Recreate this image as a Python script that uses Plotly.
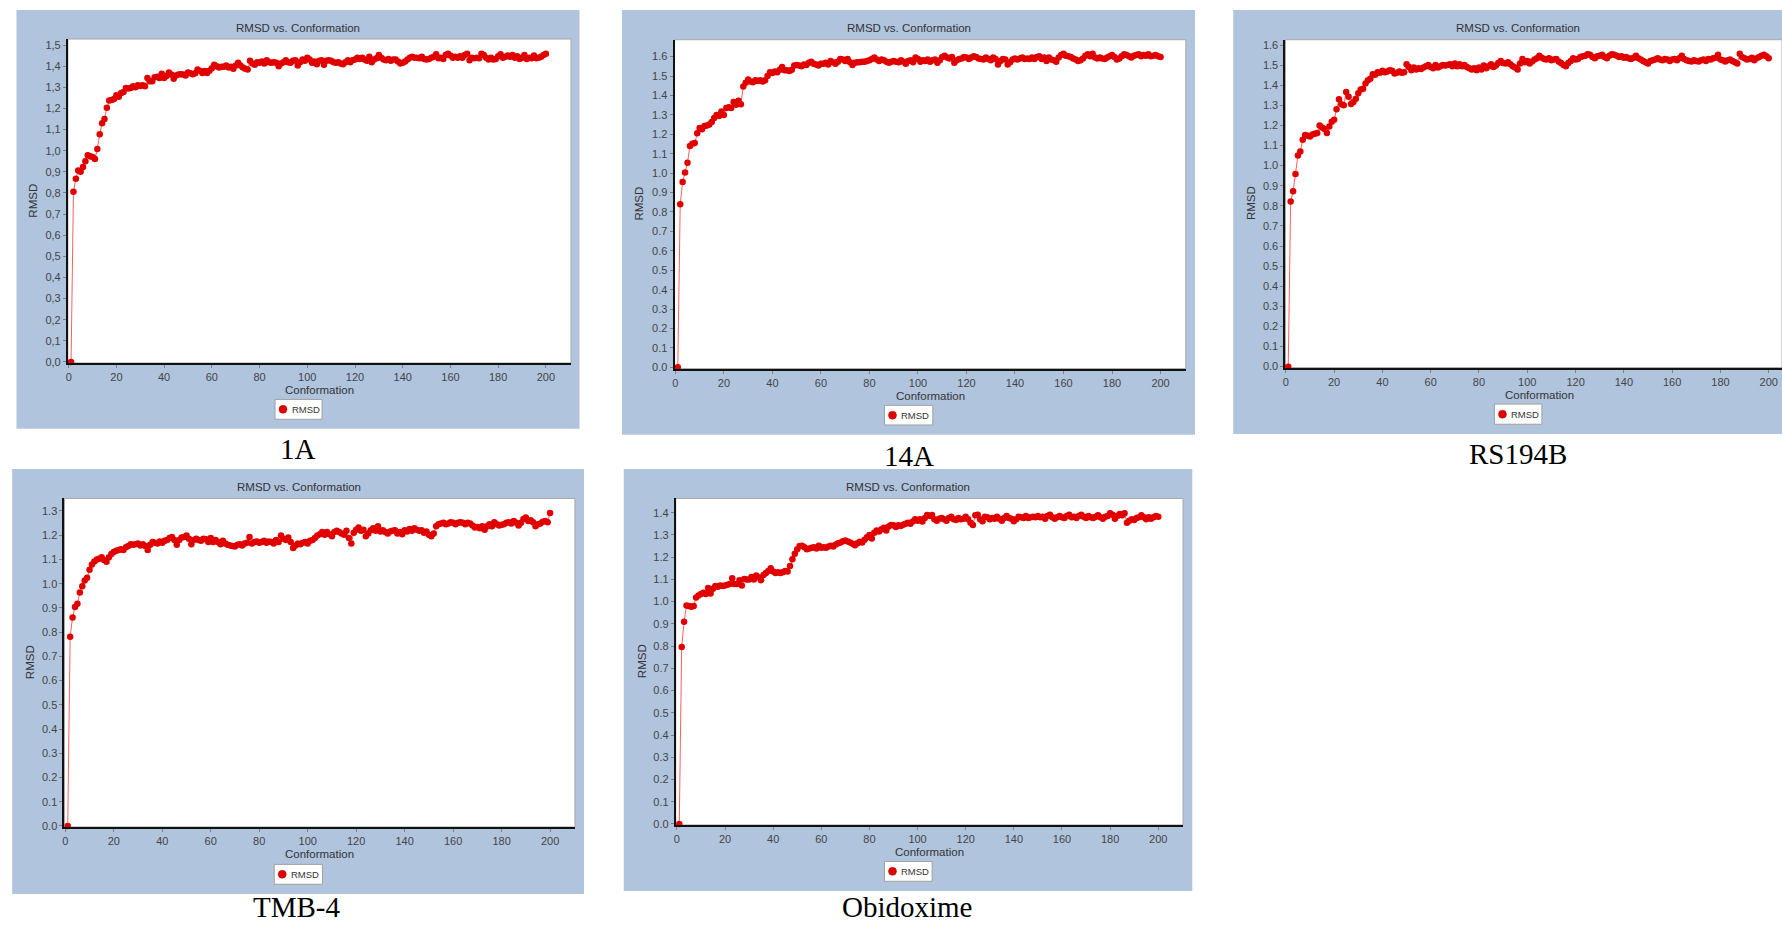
import plotly.graph_objects as go

W, H = 1782, 929

# ---------------- data ----------------
conformation = list(range(1, 201))

rmsd_1A = [
    0.0, 0.805, 0.867, 0.906, 0.90, 0.923, 0.95, 0.978, 0.973, 0.97,
    0.96, 1.008, 1.078, 1.13, 1.15, 1.203, 1.237, 1.24, 1.245, 1.262,
    1.255, 1.273, 1.278, 1.297, 1.294, 1.297, 1.305, 1.30, 1.31, 1.306,
    1.31, 1.305, 1.344, 1.328, 1.328, 1.348, 1.35, 1.344, 1.364, 1.344,
    1.353, 1.37, 1.36, 1.34, 1.356, 1.36, 1.362, 1.36, 1.356, 1.37,
    1.366, 1.362, 1.366, 1.384, 1.378, 1.368, 1.377, 1.368, 1.378, 1.39,
    1.406, 1.40, 1.394, 1.397, 1.397, 1.403, 1.394, 1.397, 1.388, 1.403,
    1.416, 1.403, 1.394, 1.388, 1.384, 1.425, 1.412, 1.406, 1.419, 1.416,
    1.422, 1.412, 1.428, 1.419, 1.416, 1.419, 1.416, 1.40, 1.412, 1.419,
    1.428, 1.419, 1.416, 1.425, 1.428, 1.403, 1.419, 1.431, 1.425, 1.44,
    1.431, 1.416, 1.422, 1.409, 1.425, 1.428, 1.406, 1.425, 1.428, 1.425,
    1.419, 1.416, 1.419, 1.412, 1.409, 1.419, 1.428, 1.419, 1.428, 1.431,
    1.44, 1.434, 1.44, 1.431, 1.425, 1.444, 1.419, 1.431, 1.437, 1.453,
    1.44, 1.431, 1.428, 1.434, 1.425, 1.431, 1.431, 1.422, 1.412, 1.416,
    1.422, 1.431, 1.44, 1.444, 1.44, 1.44, 1.437, 1.444, 1.434, 1.431,
    1.434, 1.44, 1.444, 1.456, 1.437, 1.44, 1.434, 1.453, 1.459, 1.45,
    1.44, 1.444, 1.44, 1.447, 1.44, 1.453, 1.459, 1.428, 1.44, 1.437,
    1.44, 1.437, 1.459, 1.453, 1.44, 1.431, 1.44, 1.431, 1.434, 1.447,
    1.456, 1.44, 1.444, 1.45, 1.444, 1.453, 1.44, 1.447, 1.434, 1.44,
    1.453, 1.434, 1.44, 1.437, 1.45, 1.437, 1.44, 1.444, 1.453, 1.459,
]

rmsd_14A = [
    0.0, 0.84, 0.955, 1.003, 1.053, 1.14, 1.152, 1.155, 1.205, 1.232,
    1.226, 1.243, 1.246, 1.25, 1.263, 1.284, 1.30, 1.294, 1.318, 1.30,
    1.335, 1.34, 1.335, 1.366, 1.352, 1.373, 1.355, 1.446, 1.465, 1.482,
    1.472, 1.468, 1.479, 1.475, 1.479, 1.472, 1.479, 1.50, 1.52, 1.516,
    1.523, 1.52, 1.533, 1.547, 1.53, 1.53, 1.526, 1.533, 1.554, 1.557,
    1.554, 1.55, 1.56, 1.557, 1.568, 1.574, 1.564, 1.56, 1.554, 1.564,
    1.564, 1.568, 1.56, 1.578, 1.571, 1.564, 1.574, 1.588, 1.585, 1.578,
    1.588, 1.571, 1.557, 1.568, 1.571, 1.571, 1.574, 1.574, 1.578, 1.581,
    1.588, 1.595, 1.585, 1.578, 1.585, 1.581, 1.574, 1.568, 1.574, 1.578,
    1.574, 1.571, 1.581, 1.574, 1.564, 1.578, 1.581, 1.571, 1.595, 1.588,
    1.574, 1.581, 1.578, 1.585, 1.574, 1.581, 1.585, 1.568, 1.581, 1.598,
    1.605, 1.595, 1.591, 1.598, 1.568, 1.581, 1.588, 1.591, 1.598, 1.595,
    1.588, 1.595, 1.602, 1.598, 1.591, 1.588, 1.585, 1.595, 1.588, 1.581,
    1.595, 1.588, 1.56, 1.578, 1.588, 1.585, 1.56, 1.571, 1.585, 1.591,
    1.585, 1.591, 1.595, 1.588, 1.591, 1.588, 1.595, 1.588, 1.598, 1.602,
    1.588, 1.595, 1.578, 1.595, 1.585, 1.581, 1.574, 1.595, 1.609, 1.615,
    1.605, 1.602, 1.598, 1.591, 1.585, 1.578, 1.581, 1.591, 1.605, 1.612,
    1.602, 1.615, 1.595, 1.591, 1.595, 1.591, 1.588, 1.595, 1.602, 1.609,
    1.598, 1.585, 1.591, 1.602, 1.612, 1.609, 1.602, 1.595, 1.605, 1.609,
    1.612, 1.602, 1.609, 1.605, 1.612, 1.602, 1.605, 1.609, 1.602, 1.598,
]

rmsd_RS194B = [
    0.0, 0.822, 0.872, 0.958, 1.05, 1.07, 1.129, 1.152, 1.149, 1.145,
    1.155, 1.158, 1.162, 1.20, 1.19, 1.182, 1.162, 1.195, 1.218, 1.228,
    1.28, 1.33, 1.305, 1.30, 1.366, 1.343, 1.307, 1.317, 1.333, 1.36,
    1.379, 1.383, 1.409, 1.425, 1.432, 1.455, 1.452, 1.465, 1.462, 1.472,
    1.465, 1.468, 1.475, 1.472, 1.458, 1.462, 1.468, 1.462, 1.465, 1.504,
    1.491, 1.475, 1.488, 1.478, 1.485, 1.481, 1.488, 1.494, 1.501, 1.491,
    1.485, 1.501, 1.488, 1.494, 1.501, 1.498, 1.501, 1.504, 1.494, 1.508,
    1.494, 1.504, 1.494, 1.501, 1.491, 1.485, 1.478, 1.485, 1.475, 1.488,
    1.478, 1.498, 1.485, 1.494, 1.504, 1.491, 1.498, 1.511, 1.521, 1.511,
    1.508, 1.514, 1.504, 1.494, 1.488, 1.478, 1.508, 1.531, 1.514, 1.521,
    1.508, 1.518, 1.528, 1.534, 1.547, 1.537, 1.531, 1.528, 1.534, 1.524,
    1.528, 1.531, 1.518, 1.511, 1.501, 1.494, 1.511, 1.521, 1.534, 1.528,
    1.531, 1.541, 1.544, 1.547, 1.554, 1.551, 1.541, 1.534, 1.544, 1.547,
    1.551, 1.541, 1.534, 1.547, 1.554, 1.551, 1.547, 1.541, 1.544, 1.537,
    1.541, 1.534, 1.531, 1.537, 1.547, 1.534, 1.528, 1.521, 1.514, 1.508,
    1.521, 1.524, 1.528, 1.534, 1.528, 1.524, 1.531, 1.528, 1.521, 1.528,
    1.531, 1.524, 1.534, 1.547, 1.531, 1.524, 1.521, 1.518, 1.524, 1.521,
    1.518, 1.524, 1.528, 1.521, 1.531, 1.528, 1.534, 1.537, 1.551, 1.528,
    1.524, 1.518, 1.524, 1.528, 1.521, 1.514, 1.508, 1.557, 1.541, 1.534,
    1.528, 1.531, 1.537, 1.524, 1.534, 1.541, 1.547, 1.551, 1.544, 1.534,
]

rmsd_TMB4 = [
    0.0, 0.781, 0.86, 0.904, 0.917, 0.964, 0.989, 1.013, 1.024, 1.057,
    1.079, 1.092, 1.10, 1.103, 1.109, 1.098, 1.09, 1.109, 1.122, 1.131,
    1.136, 1.139, 1.142, 1.139, 1.15, 1.155, 1.163, 1.161, 1.163, 1.166,
    1.158, 1.163, 1.155, 1.139, 1.161, 1.172, 1.169, 1.166, 1.174, 1.169,
    1.177, 1.18, 1.188, 1.193, 1.18, 1.161, 1.18, 1.191, 1.193, 1.199,
    1.185, 1.163, 1.18, 1.185, 1.18, 1.177, 1.185, 1.183, 1.172, 1.188,
    1.172, 1.18, 1.172, 1.163, 1.177, 1.166, 1.161, 1.158, 1.155, 1.153,
    1.161, 1.163, 1.158, 1.166, 1.169, 1.193, 1.166, 1.172, 1.174, 1.169,
    1.172, 1.177, 1.169, 1.174, 1.172, 1.166, 1.18, 1.172, 1.199, 1.185,
    1.18, 1.191, 1.172, 1.147, 1.158, 1.166, 1.163, 1.169, 1.172, 1.166,
    1.177, 1.18, 1.188, 1.199, 1.204, 1.213, 1.202, 1.213, 1.204, 1.196,
    1.213, 1.218, 1.213, 1.207, 1.202, 1.218, 1.188, 1.166, 1.21, 1.223,
    1.232, 1.218, 1.223, 1.196, 1.207, 1.221, 1.229, 1.218, 1.237, 1.215,
    1.221, 1.213, 1.207, 1.215, 1.218, 1.221, 1.207, 1.213, 1.204, 1.221,
    1.215, 1.226, 1.218, 1.229, 1.223, 1.218, 1.221, 1.21, 1.215, 1.202,
    1.196, 1.207, 1.237, 1.245, 1.248, 1.251, 1.245, 1.248, 1.254, 1.251,
    1.245, 1.251, 1.254, 1.251, 1.245, 1.251, 1.248, 1.24, 1.232, 1.234,
    1.229, 1.237, 1.223, 1.237, 1.245, 1.237, 1.254, 1.245, 1.24, 1.243,
    1.245, 1.251, 1.254, 1.248, 1.259, 1.251, 1.24, 1.251, 1.267, 1.273,
    1.259, 1.262, 1.254, 1.237, 1.245, 1.248, 1.256, 1.259, 1.254, 1.292,
]

rmsd_Obidoxime = [
    0.0, 0.796, 0.909, 0.983, 0.98, 0.977, 0.98, 1.019, 1.028, 1.034,
    1.04, 1.034, 1.061, 1.037, 1.058, 1.07, 1.067, 1.073, 1.07, 1.073,
    1.076, 1.079, 1.105, 1.079, 1.079, 1.096, 1.073, 1.102, 1.099, 1.099,
    1.111, 1.099, 1.117, 1.108, 1.096, 1.12, 1.129, 1.138, 1.15, 1.135,
    1.129, 1.132, 1.129, 1.132, 1.138, 1.135, 1.16, 1.19, 1.215, 1.235,
    1.25, 1.251, 1.245, 1.236, 1.239, 1.242, 1.245, 1.239, 1.251, 1.242,
    1.245, 1.242, 1.248, 1.251, 1.248, 1.257, 1.263, 1.266, 1.272, 1.275,
    1.27, 1.266, 1.26, 1.254, 1.263, 1.269, 1.266, 1.278, 1.29, 1.30,
    1.284, 1.31, 1.32, 1.315, 1.326, 1.332, 1.32, 1.338, 1.345, 1.343,
    1.336, 1.344, 1.34, 1.346, 1.35, 1.355, 1.35, 1.36, 1.37, 1.364,
    1.37, 1.36, 1.376, 1.39, 1.385, 1.39, 1.37, 1.364, 1.373, 1.376,
    1.37, 1.364, 1.376, 1.382, 1.37, 1.367, 1.376, 1.37, 1.373, 1.382,
    1.37, 1.355, 1.345, 1.388, 1.391, 1.37, 1.361, 1.382, 1.379, 1.37,
    1.376, 1.373, 1.382, 1.373, 1.364, 1.376, 1.385, 1.376, 1.373, 1.361,
    1.37, 1.382, 1.379, 1.376, 1.385, 1.376, 1.379, 1.382, 1.379, 1.385,
    1.379, 1.382, 1.373, 1.385, 1.391, 1.379, 1.373, 1.379, 1.385, 1.379,
    1.376, 1.385, 1.391, 1.379, 1.382, 1.376, 1.385, 1.391, 1.382, 1.376,
    1.385, 1.379, 1.376, 1.382, 1.388, 1.379, 1.373, 1.382, 1.385, 1.397,
    1.391, 1.373, 1.385, 1.394, 1.388, 1.397, 1.355, 1.364, 1.37, 1.367,
    1.376, 1.379, 1.388, 1.379, 1.37, 1.379, 1.373, 1.379, 1.385, 1.382,
]

captions = ["1A", "14A", "RS194B", "TMB-4", "Obidoxime"]
series_values = [rmsd_1A, rmsd_14A, rmsd_RS194B, rmsd_TMB4, rmsd_Obidoxime]

chart_title = "RMSD vs. Conformation"
x_title = "Conformation"
y_title = "RMSD"
legend_label = "RMSD"

x_tickvals = [0, 20, 40, 60, 80, 100, 120, 140, 160, 180, 200]
y_tickvals_1A = [0.0, 0.1, 0.2, 0.3, 0.4, 0.5, 0.6, 0.7, 0.8, 0.9, 1.0, 1.1, 1.2, 1.3, 1.4, 1.5]
y_ticktext_1A = ["0,0", "0,1", "0,2", "0,3", "0,4", "0,5", "0,6", "0,7", "0,8", "0,9",
                 "1,0", "1,1", "1,2", "1,3", "1,4", "1,5"]

# ---------------- layout geometry (pixels) ----------------
# caption y of None -> caption box sits on the bottom edge of the page
panels = [
    dict(bg=(13.5, 9, 577.5, 430.5), plot=(65, 38.3, 569, 364.3), xcal=(65.8, 543.8),
         ycal=(363.3, 44.3, 1.5), title=(295.8, 26.7), xtitle=(317, 391.5), ytitle=(30, 201),
         legend=(272.5, 401, 319.6, 421), caption=(295.5, 450.5)),
    dict(bg=(620, 9, 1194, 436.5), plot=(672.7, 39, 1184.8, 370), xcal=(673.5, 1159.5),
         ycal=(368.7, 56, 1.6), title=(907.5, 26.7), xtitle=(928.7, 397.5), ytitle=(637, 204),
         legend=(883, 407, 931.4, 426.7), caption=(908, 458)),
    dict(bg=(1232.3, 9, 1782, 435.7), plot=(1284.6, 39, 1782, 369), xcal=(1285, 1768.7),
         ycal=(368, 44.3, 1.6), title=(1517.7, 26.7), xtitle=(1538.9, 396.5), ytitle=(1249.5, 203),
         legend=(1494, 405.7, 1541.5, 426), caption=(1518, 456)),
    dict(bg=(9.2, 471, 582, 898.7), plot=(61.6, 500.7, 572.9, 831.3), xcal=(62.4, 548),
         ycal=(830.3, 513.3, 1.3), title=(296, 489), xtitle=(317.3, 859), ytitle=(26.5, 665),
         legend=(271.7, 869, 320, 889), caption=(294.7, None)),
    dict(bg=(621.8, 471, 1191.3, 895.7), plot=(673.9, 500.7, 1182, 829.3), xcal=(675, 1157.2),
         ycal=(828.3, 515, 1.4), title=(907, 488.7), xtitle=(928.4, 856.5), ytitle=(639.5, 664),
         legend=(883, 866, 930.7, 886), caption=(906.5, None)),
]

PANEL_BG = "#B0C4DE"
FONT_SANS = "Liberation Sans, Arial, sans-serif"
FONT_SERIF = "Liberation Serif, Times New Roman, serif"


def px(x):
    return x / W


def py(y):
    return 1 - y / H


fig = go.Figure()
shapes = []
annotations = []
layout_axes = {}

for i, (p, vals, cap) in enumerate(zip(panels, series_values, captions)):
    n = "" if i == 0 else str(i + 1)
    xa, ya = "x" + n, "y" + n

    x0, y0, x1, y1 = p["plot"]
    cx0, cx200 = p["xcal"]
    xscale = (cx200 - cx0) / 200.0
    xrange = [(x0 - cx0) / xscale, (x1 - cx0) / xscale]
    zy, vy, vv = p["ycal"]
    yscale = (zy - vy) / vv
    yrange = [(zy - y1) / yscale, (zy - y0) / yscale]

    fig.add_trace(go.Scatter(
        x=conformation, y=vals, xaxis=xa, yaxis=ya, mode="lines+markers",
        name=legend_label, showlegend=False,
        line=dict(color="rgba(255,40,40,0.75)", width=1),
        marker=dict(color="#E00000", size=6.5, line=dict(width=0)),
        cliponaxis=False,
    ))

    tickfont = dict(family=FONT_SANS, size=11, color="#444444")
    xaxis = dict(domain=[px(x0), px(x1)], range=xrange, anchor=ya,
                 tickvals=x_tickvals, ticks="outside", ticklen=3, tickcolor="#808080",
                 showline=True, linecolor="#111111", linewidth=2, showgrid=False,
                 zeroline=False, tickfont=tickfont, fixedrange=True)
    yaxis = dict(domain=[py(y1), py(y0)], range=yrange, anchor=xa,
                 ticks="outside", ticklen=3, tickcolor="#808080",
                 showline=True, linecolor="#111111", linewidth=2, showgrid=False,
                 zeroline=False, tickfont=tickfont, fixedrange=True)
    if i == 0:
        yaxis.update(tickvals=y_tickvals_1A, ticktext=y_ticktext_1A)
    else:
        yaxis.update(tick0=0, dtick=0.1, tickformat=".1f")
    layout_axes["xaxis" + n] = xaxis
    layout_axes["yaxis" + n] = yaxis

    bx0, by0, bx1, by1 = p["bg"]
    shapes.append(dict(type="rect", xref="paper", yref="paper", layer="below",
                       x0=px(bx0), x1=px(bx1), y0=py(by1), y1=py(by0),
                       fillcolor=PANEL_BG, line=dict(width=0)))
    shapes.append(dict(type="rect", xref="paper", yref="paper", layer="below",
                       x0=px(x0), x1=px(x1), y0=py(y1), y1=py(y0),
                       fillcolor="white", line=dict(color="#A8A8A8", width=1)))

    # legend box
    lx0, ly0, lx1, ly1 = p["legend"]
    lcy = (ly0 + ly1) / 2
    shapes.append(dict(type="rect", xref="paper", yref="paper", layer="above",
                       x0=px(lx0), x1=px(lx1), y0=py(ly1), y1=py(ly0),
                       fillcolor="white", line=dict(color="#A0A0A0", width=1)))
    r = 4
    shapes.append(dict(type="circle", xref="paper", yref="paper", layer="above",
                       x0=px(lx0 + 8 - r), x1=px(lx0 + 8 + r), y0=py(lcy + r), y1=py(lcy - r),
                       fillcolor="#E00000", line=dict(color="#B00000", width=0.5)))
    annotations.append(dict(text=legend_label, xref="paper", yref="paper",
                            x=px(lx0 + 14.5), y=py(lcy), xanchor="left", yanchor="middle",
                            showarrow=False, font=dict(family=FONT_SANS, size=9.5, color="#333333")))

    tx, ty = p["title"]
    annotations.append(dict(text=chart_title, xref="paper", yref="paper", x=px(tx), y=py(ty),
                            xanchor="center", yanchor="middle", showarrow=False,
                            font=dict(family=FONT_SANS, size=11.5, color="#333333")))
    tx, ty = p["xtitle"]
    annotations.append(dict(text=x_title, xref="paper", yref="paper", x=px(tx), y=py(ty),
                            xanchor="center", yanchor="middle", showarrow=False,
                            font=dict(family=FONT_SANS, size=11.5, color="#333333")))
    tx, ty = p["ytitle"]
    annotations.append(dict(text=y_title, xref="paper", yref="paper", x=px(tx), y=py(ty),
                            xanchor="center", yanchor="middle", showarrow=False, textangle=-90,
                            font=dict(family=FONT_SANS, size=11.5, color="#333333")))
    tx, ty = p["caption"]
    cap_ann = dict(text=cap, xref="paper", yref="paper", x=px(tx), xanchor="center",
                   showarrow=False, borderpad=0,
                   font=dict(family=FONT_SERIF, size=29, color="black"))
    if ty is None:
        cap_ann.update(y=0, yanchor="bottom")
    else:
        cap_ann.update(y=py(ty), yanchor="middle")
    annotations.append(cap_ann)

fig.update_layout(
    width=W, height=H, autosize=False,
    margin=dict(l=0, r=0, t=0, b=0),
    paper_bgcolor="white", plot_bgcolor="rgba(0,0,0,0)",
    showlegend=False,
    shapes=shapes, annotations=annotations,
    **layout_axes,
)

fig.write_html(
    "out.html",
    config={"displayModeBar": False},
    post_script="document.body.style.margin='0';document.body.style.padding='0';"
                "document.body.style.overflow='hidden';",
)
